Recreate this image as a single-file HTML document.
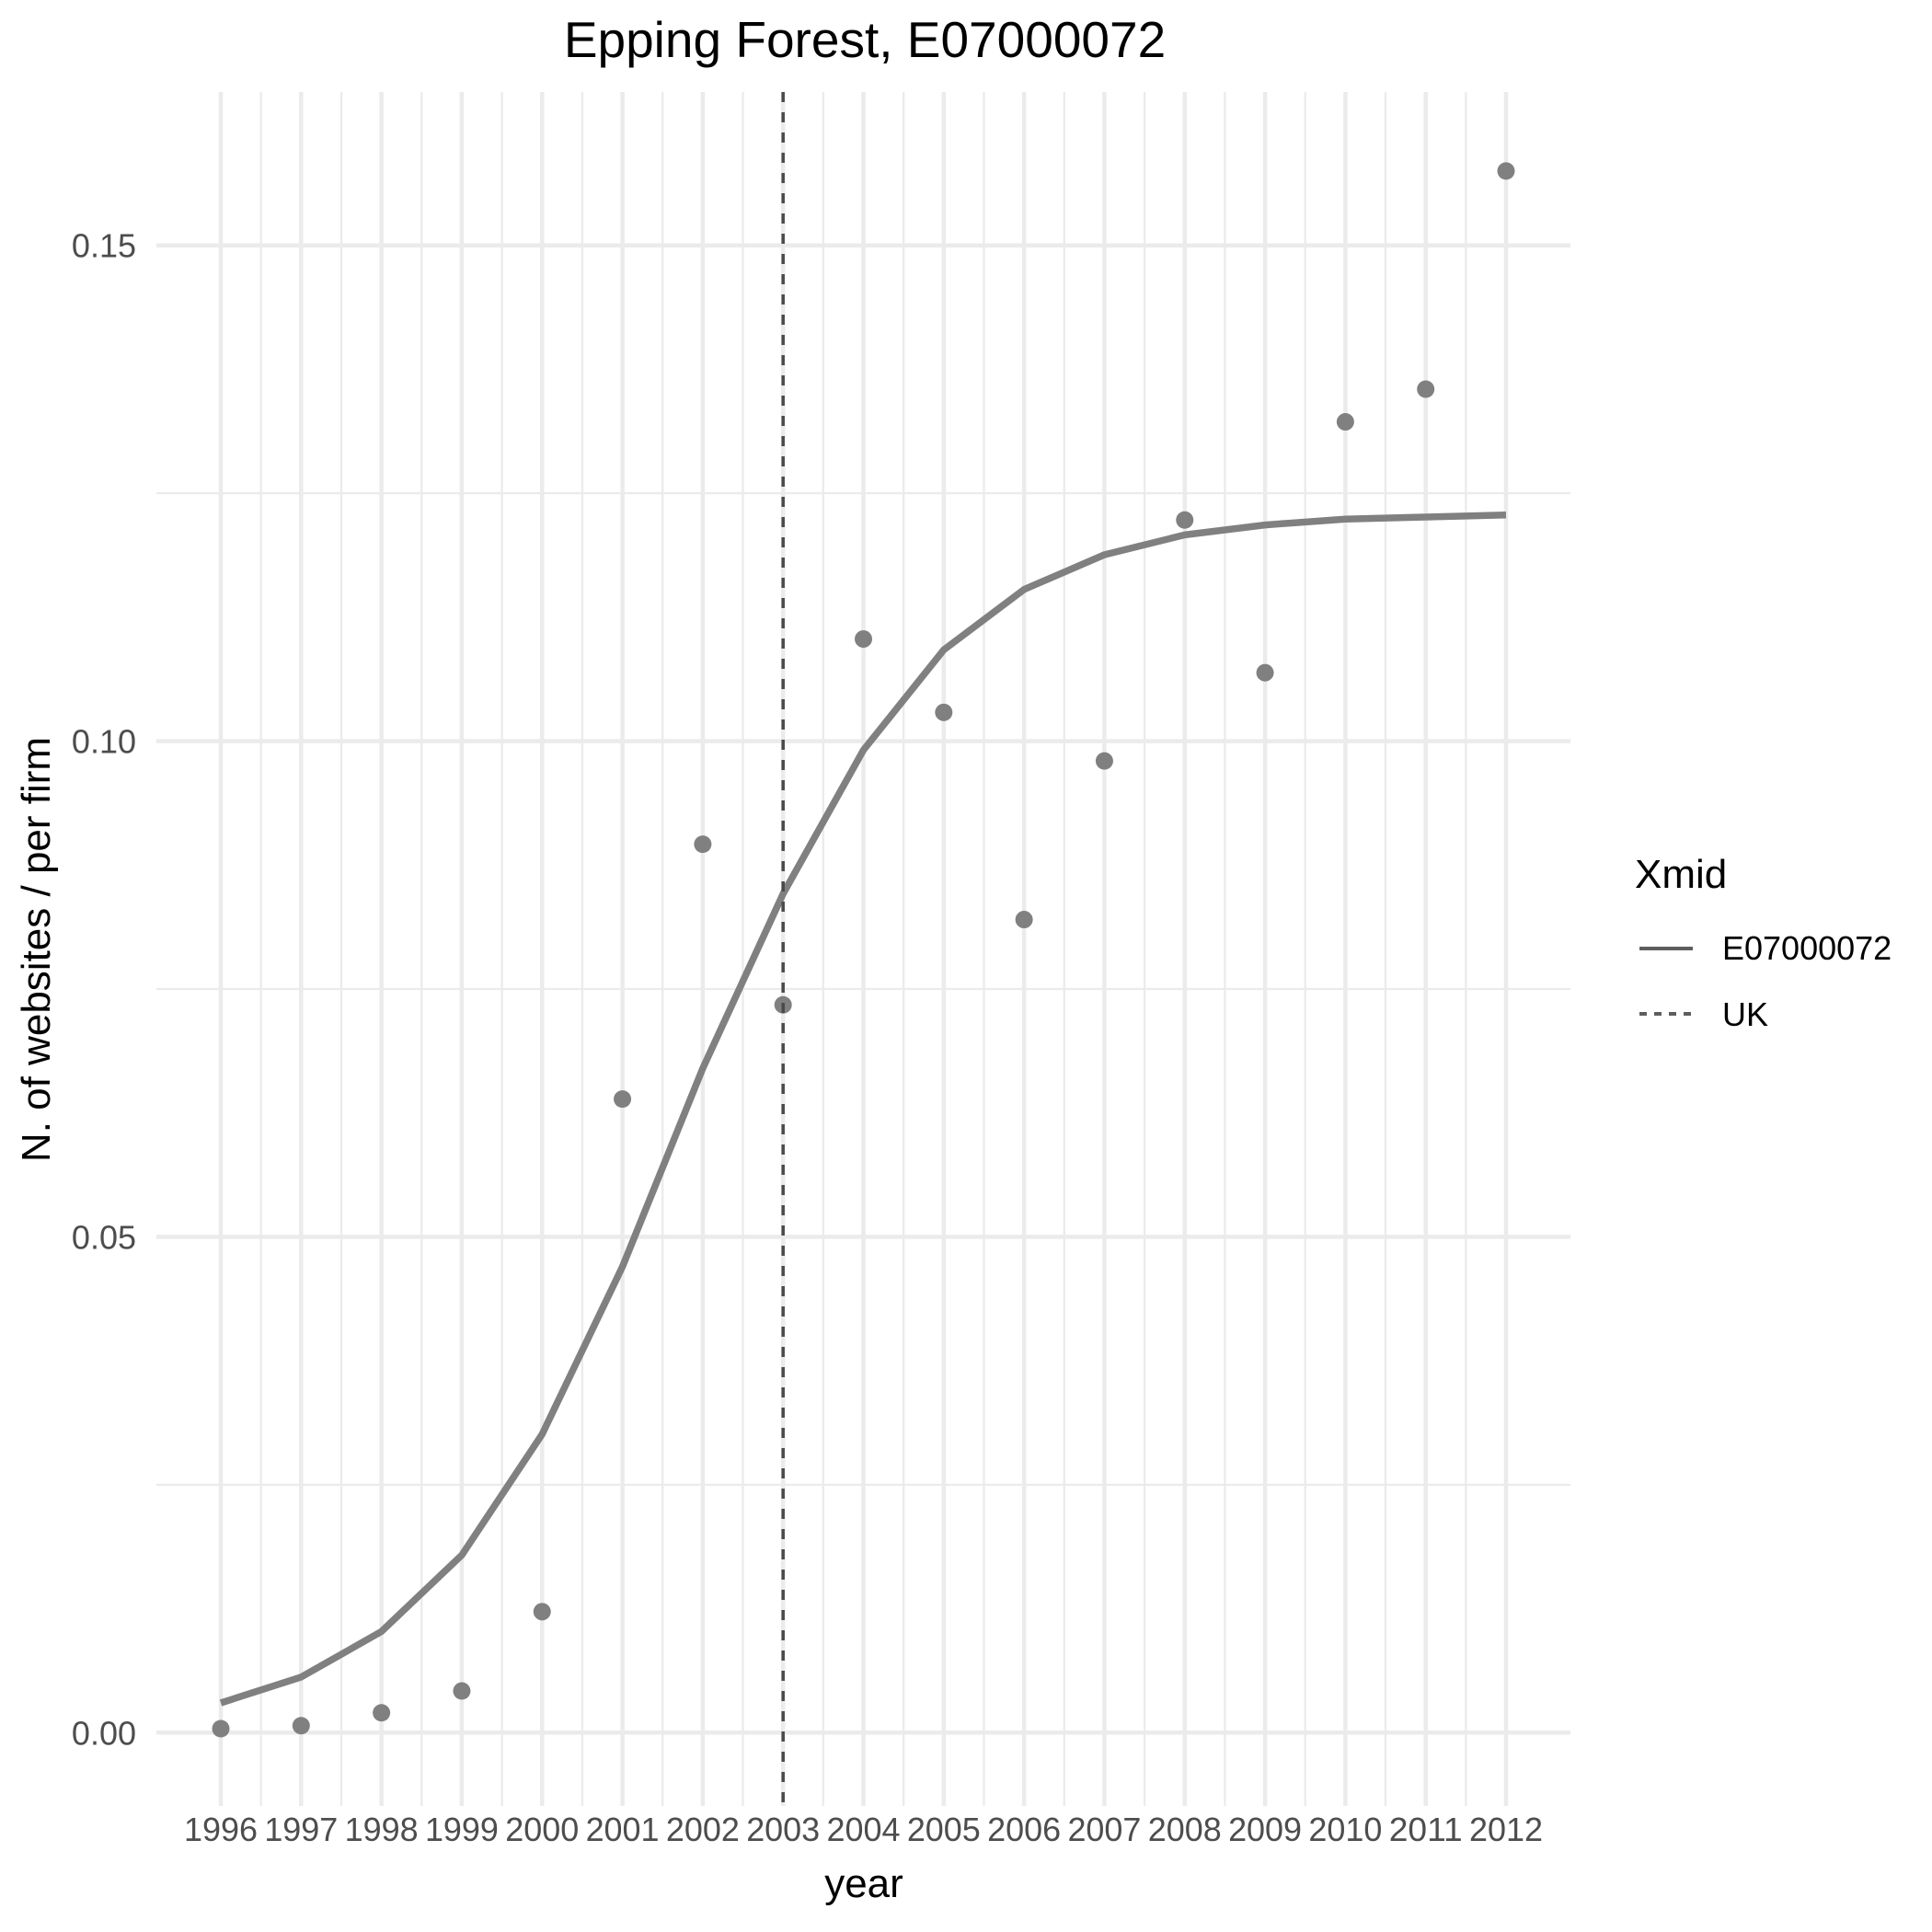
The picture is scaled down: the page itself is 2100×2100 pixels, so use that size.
<!DOCTYPE html>
<html><head><meta charset="utf-8"><style>
html,body{margin:0;padding:0;background:#fff;}
svg{display:block;font-family:"Liberation Sans",sans-serif;}
</style></head><body>
<svg id="chart" width="2100" height="2100" viewBox="0 0 2100 2100" xmlns="http://www.w3.org/2000/svg">
<g id="grid"></g>
<g id="marks"></g>
<g id="axes"></g>
<text x="940" y="62" font-size="55" text-anchor="middle" fill="#000">Epping Forest, E07000072</text>
<text x="939" y="2062" font-size="44" text-anchor="middle" fill="#000">year</text>
<text transform="translate(54,1032) rotate(-90)" font-size="44" text-anchor="middle" fill="#000">N. of websites / per firm</text>
<g>
<text x="1777" y="965" font-size="44" fill="#000">Xmid</text>
<line x1="1782" y1="1031" x2="1840" y2="1031" stroke="#5e5e5e" stroke-width="4"/>
<text x="1872" y="1043" font-size="36" fill="#000">E07000072</text>
<line x1="1782" y1="1102" x2="1840" y2="1102" stroke="#5e5e5e" stroke-width="4" stroke-dasharray="8,8"/>
<text x="1872" y="1115" font-size="36" fill="#000">UK</text>
</g>
</svg>
<script>
const years = [1996,1997,1998,1999,2000,2001,2002,2003,2004,2005,2006,2007,2008,2009,2010,2011,2012];
const pointValues = [0.0004,0.0007,0.002,0.0042,0.0122,0.0639,0.0896,0.0734,0.1103,0.1029,0.082,0.098,0.1223,0.1069,0.1322,0.1355,0.1575];
const lineValues = [0.003,0.0056,0.0102,0.0179,0.0301,0.047,0.067,0.0846,0.0991,0.1092,0.1153,0.1188,0.1208,0.1218,0.1224,0.1226,0.1228];
const yTicks = [0,0.05,0.10,0.15];
const yTickLabels = ["0.00","0.05","0.10","0.15"];
const yMinor = [0.025,0.075,0.125];
const ukYear = 2003;

const NS = "http://www.w3.org/2000/svg";
const L = 170, R = 1707, T = 100, B = 1963;
function xs(v){ return 240 + (v - 1996) * 87.3125; }
function ys(v){ return 1883.3 - v * 10777.3; }
function mk(tag, attrs, parent){
  const e = document.createElementNS(NS, tag);
  for (const k in attrs) e.setAttribute(k, attrs[k]);
  parent.appendChild(e);
  return e;
}
const grid = document.getElementById('grid');
const marks = document.getElementById('marks');
const axes = document.getElementById('axes');

yMinor.forEach(v => {
  const l = mk('line', {x1:L, x2:R, y1:ys(v), y2:ys(v), stroke:'#ebebeb', 'stroke-width':2.3}, grid);
  
  
});
years.slice(0,-1).forEach(y => {
  const l = mk('line', {x1:xs(y+0.5), x2:xs(y+0.5), y1:T, y2:B, stroke:'#ebebeb', 'stroke-width':2.3}, grid);
  
  
});
yTicks.forEach((v,i) => {
  const l = mk('line', {x1:L, x2:R, y1:ys(v), y2:ys(v), stroke:'#ebebeb', 'stroke-width':4.5}, grid);
  
  
  const t = mk('text', {x:148, y:ys(v)+13, 'font-size':36, 'text-anchor':'end', fill:'#4d4d4d'}, axes);
  t.textContent = yTickLabels[i];
  
  
});
years.forEach(y => {
  const l = mk('line', {x1:xs(y), x2:xs(y), y1:T, y2:B, stroke:'#ebebeb', 'stroke-width':4.5}, grid);
  
  
  const t = mk('text', {x:xs(y), y:2001, 'font-size':36, 'text-anchor':'middle', fill:'#4d4d4d', textLength:80, lengthAdjust:'spacingAndGlyphs'}, axes);
  t.textContent = y;
  
  
});

const pts = years.map((y,i) => xs(y).toFixed(1) + ',' + ys(lineValues[i]).toFixed(1)).join(' ');
const pl = mk('polyline', {points:pts, fill:'none', stroke:'#808080', 'stroke-width':7.5, 'stroke-linejoin':'round'}, marks);



years.forEach((y,i) => {
  const c = mk('circle', {cx:xs(y), cy:ys(pointValues[i]), r:9.5, fill:'#808080'}, marks);
  
  
});

const vl = mk('line', {x1:xs(ukYear), x2:xs(ukYear), y1:T, y2:B, stroke:'#4a4a4a', 'stroke-width':3.5, 'stroke-dasharray':'11,11'}, marks);


</script>
</body></html>
